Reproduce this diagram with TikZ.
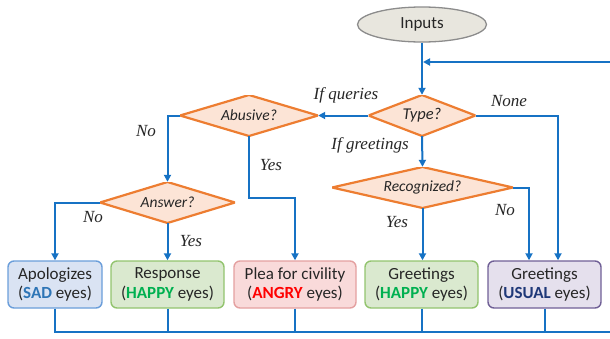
\documentclass[tikz,border=0pt]{standalone}
\usepackage{fontspec}
\setmainfont{Carlito}
\newfontfamily\labelfont{Liberation Serif}
\usetikzlibrary{shapes.geometric,arrows.meta}

\definecolor{flow}{RGB}{22,114,196}
\definecolor{startfill}{RGB}{232,230,222}
\definecolor{startdraw}{RGB}{140,140,140}
\definecolor{decfill}{RGB}{252,228,214}
\definecolor{decdraw}{RGB}{237,125,49}
\definecolor{sadfill}{RGB}{218,227,243}
\definecolor{saddraw}{RGB}{107,158,218}
\definecolor{hapfill}{RGB}{218,233,207}
\definecolor{hapdraw}{RGB}{146,196,110}
\definecolor{angfill}{RGB}{249,218,218}
\definecolor{angdraw}{RGB}{228,160,160}
\definecolor{usufill}{RGB}{229,224,237}
\definecolor{usudraw}{RGB}{112,96,150}
\definecolor{sadtxt}{RGB}{46,117,182}
\definecolor{haptxt}{RGB}{0,176,80}
\definecolor{angtxt}{RGB}{255,0,0}
\definecolor{usutxt}{RGB}{31,56,120}
\definecolor{ink}{RGB}{38,38,38}

\tikzset{
  startnode/.style={ellipse, draw=startdraw, fill=startfill, line width=1.3pt,
    minimum width=129pt, minimum height=35pt, inner sep=0pt,
    font=\fontsize{17}{20}\selectfont, text=ink},
  % rectangular node whose box carries a diamond; its compass anchors are the diamond's corners
  decision/.style={rectangle, inner sep=0pt, minimum height=41pt,
    font=\itshape\fontsize{15.5}{18}\selectfont, text=ink,
    path picture={
      \filldraw[draw=decdraw, fill=decfill, line width=2.2pt, line join=miter]
        (path picture bounding box.north) -- (path picture bounding box.east)
        -- (path picture bounding box.south) -- (path picture bounding box.west) -- cycle;
    }},
  outcome/.style={rectangle, rounded corners=6pt, line width=1.4pt,
    minimum height=47pt, inner sep=0pt, align=center,
    font=\fontsize{17}{19.5}\selectfont, text=ink},
  link/.style={draw=flow, line width=2pt},
  arrow/.style={link, -{Triangle[length=7pt,width=7pt]}},
  branch/.style={font=\labelfont\itshape\fontsize{17}{20}\selectfont, text=ink, inner sep=0pt}
}

\begin{document}
\begin{tikzpicture}[x=1pt, y=-1pt]
  \useasboundingbox (0,0) rectangle (610,338);

  % start and decisions
  \node[startnode] (inputs) at (422,24.5) {Inputs};
  \node[decision, minimum width=107pt, font=\itshape\fontsize{16.5}{19}\selectfont] (type) at (422,115.5) {Type?};
  \node[decision, minimum width=138pt] (abusive) at (249,115.5) {Abusive?};
  \node[decision, minimum width=135pt] (answer) at (167.5,202.5) {Answer?};
  \node[decision, minimum width=181pt] (recog) at (422.5,187.5) {Recognized?};

  % outcomes
  \node[outcome, draw=saddraw, fill=sadfill, minimum width=94pt] (apol) at (55,284.5)
    {Apologizes\\(\textbf{\color{sadtxt}SAD} eyes)};
  \node[outcome, draw=hapdraw, fill=hapfill, minimum width=113pt] (resp) at (167.5,284.5)
    {Response\\(\textbf{\color{haptxt}HAPPY} eyes)};
  \node[outcome, draw=angdraw, fill=angfill, minimum width=122pt] (plea) at (295,284.5)
    {Plea for civility\\(\textbf{\color{angtxt}ANGRY} eyes)};
  \node[outcome, draw=hapdraw, fill=hapfill, minimum width=113pt] (greethap) at (421.5,284.5)
    {Greetings\\(\textbf{\color{haptxt}HAPPY} eyes)};
  \node[outcome, draw=usudraw, fill=usufill, minimum width=113pt] (greetusu) at (544.5,284.5)
    {Greetings\\(\textbf{\color{usutxt}USUAL} eyes)};

  % loop coordinates at the right edge
  \coordinate (loopin) at (610,62);
  \coordinate (loopout) at (610,332);
  \coordinate (abuseturn) at (249,198);

  % main flow
  \draw[arrow] (inputs.south) -- (type.north);
  \draw[arrow] (loopin) -- ([xshift=1pt]inputs.south |- loopin);
  \draw[arrow] (type.west) -- (abusive.east);
  \draw[arrow] (type.south) -- (recog.north);
  \draw[arrow] (type.east) -| ([xshift=13.5pt]greetusu.north);
  \draw[arrow] (recog.east) -| ([xshift=-15.5pt]greetusu.north);
  \draw[arrow] (recog.south) -- (recog.south |- greethap.north);
  \draw[arrow] (abusive.west) -| (answer.north);
  \draw[arrow] (abusive.south) -- (abuseturn) -| (plea.north);
  \draw[arrow] (answer.west) -| (apol.north);
  \draw[arrow] (answer.south) -- (answer.south |- resp.north);

  % return path along the bottom
  \draw[link] (apol.south) |- (loopout);
  \draw[link] (resp.south) -- (resp.south |- loopout);
  \draw[link] (plea.south) -- (plea.south |- loopout);
  \draw[link] (greethap.south) -- (greethap.south |- loopout);
  \draw[link] (greetusu.south) -- (greetusu.south |- loopout);

  % branch labels
  \node[branch] at (346,95) {If queries};
  \node[branch] at (509,101) {None};
  \node[branch] at (370,145) {If greetings};
  \node[branch] at (146,131) {No};
  \node[branch] at (271,165) {Yes};
  \node[branch] at (93,217) {No};
  \node[branch] at (191,241) {Yes};
  \node[branch] at (397,222) {Yes};
  \node[branch] at (505,210) {No};
\end{tikzpicture}
\end{document}
